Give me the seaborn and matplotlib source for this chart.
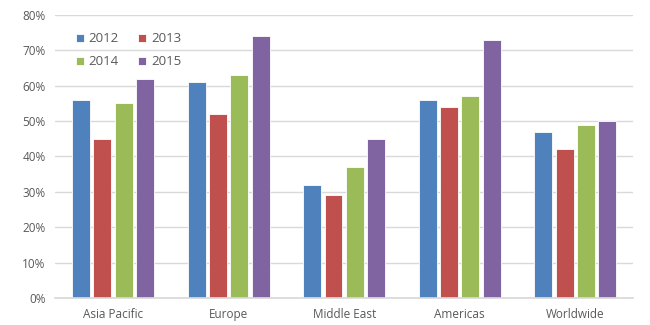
import matplotlib
matplotlib.use("Agg")
import matplotlib.pyplot as plt
import seaborn as sns
import pandas as pd
from matplotlib.ticker import PercentFormatter

regions = ["Asia Pacific", "Europe", "Middle East", "Americas", "Worldwide"]
years = ["2012", "2013", "2014", "2015"]
v2012 = [56, 61, 32, 56, 47]
v2013 = [45, 52, 29, 54, 42]
v2014 = [55, 63, 37, 57, 49]
v2015 = [62, 74, 45, 73, 50]
colors = ["#4F81BD", "#C0504D", "#9BBB59", "#8064A2"]

rows = []
for year, vals in zip(years, [v2012, v2013, v2014, v2015]):
    for region, v in zip(regions, vals):
        rows.append({"Region": region, "Year": year, "Value": v})
df = pd.DataFrame(rows)

sns.set_theme(style="white")
plt.rcParams["font.family"] = ["Open Sans", "DejaVu Sans"]

fig = plt.figure(figsize=(6.5, 3.25), dpi=100)
ax = fig.add_axes([0.085, 0.083, 0.889, 0.871])

sns.barplot(data=df, x="Region", y="Value", hue="Year", order=regions,
            hue_order=years, palette=colors, width=0.74, gap=0.16,
            edgecolor="white", linewidth=0.6, saturation=1, ax=ax,
            errorbar=None)

ax.set_ylim(0, 80)
ax.set_yticks(range(0, 81, 10))
ax.yaxis.set_major_formatter(PercentFormatter(decimals=0))
ax.grid(axis="y", color="#D9D9D9", linewidth=1)
ax.set_axisbelow(True)
for side in ["top", "right", "left"]:
    ax.spines[side].set_visible(False)
ax.spines["bottom"].set_color("#D9D9D9")
ax.set_xlabel("")
ax.set_ylabel("")
ax.tick_params(axis="both", length=0, labelsize=8.5, colors="#595959", pad=7)

# legend filled row by row: 2012, 2013 / 2014, 2015
handles, labels = ax.get_legend_handles_labels()
order = [0, 2, 1, 3]
ax.legend([handles[i] for i in order], [labels[i] for i in order],
          loc="upper left", bbox_to_anchor=(0.015, 0.98), ncol=2, frameon=False,
          fontsize=9.5, labelcolor="#595959", handlelength=0.6, handleheight=0.6,
          columnspacing=1.5, handletextpad=0.35, labelspacing=0.75)

fig.savefig("out.png", dpi=100)
